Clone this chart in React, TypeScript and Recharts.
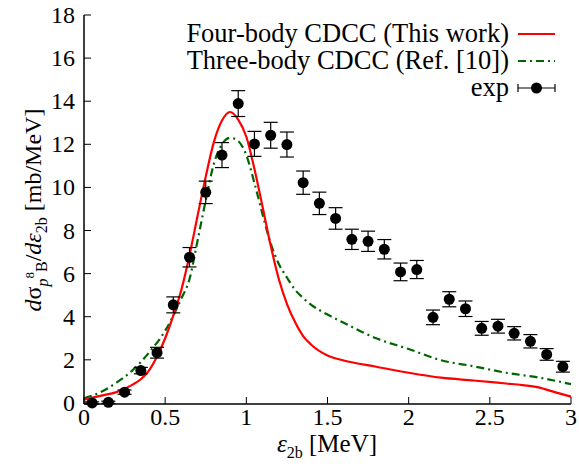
import React from 'react';
import { ComposedChart, Line, Scatter, XAxis, YAxis, ErrorBar } from 'recharts';

// Four-body CDCC (This work)
const fourBodyE = [0, 0.1, 0.2, 0.3, 0.35, 0.4, 0.45, 0.5, 0.55, 0.6, 0.65, 0.7, 0.75, 0.8, 0.85, 0.9, 0.95, 1.0, 1.05, 1.1, 1.15, 1.2, 1.25, 1.3, 1.35, 1.4, 1.5, 1.6, 1.8, 2.0, 2.2, 2.4, 2.6, 2.7, 2.8, 2.9, 3.0];
const fourBodyY = [0.15, 0.33, 0.5, 0.85, 1.1, 1.5, 2.15, 3.0, 4.05, 5.25, 6.85, 8.7, 10.5, 12.1, 13.1, 13.5, 13.15, 12.35, 10.85, 9.1, 7.3, 5.75, 4.6, 3.75, 3.1, 2.7, 2.2, 1.97, 1.68, 1.4, 1.17, 1.04, 0.9, 0.83, 0.72, 0.5, 0.29];

// Three-body CDCC (Ref. [10])
const threeBodyE = [0, 0.1, 0.2, 0.3, 0.4, 0.5, 0.6, 0.65, 0.7, 0.75, 0.8, 0.85, 0.9, 0.95, 1.0, 1.05, 1.1, 1.15, 1.2, 1.25, 1.3, 1.35, 1.4, 1.5, 1.6, 1.8, 2.0, 2.2, 2.4, 2.6, 2.8, 3.0];
const threeBodyY = [0.22, 0.49, 0.94, 1.52, 2.33, 3.35, 4.85, 5.75, 7.55, 9.4, 11.1, 12.0, 12.3, 12.15, 11.5, 10.2, 8.75, 7.4, 6.45, 5.82, 5.25, 4.87, 4.55, 4.1, 3.72, 3.0, 2.5, 1.98, 1.7, 1.4, 1.18, 0.87];

// exp
const expE = [0.05, 0.15, 0.25, 0.35, 0.45, 0.55, 0.65, 0.75, 0.85, 0.95, 1.05, 1.15, 1.25, 1.35, 1.45, 1.55, 1.65, 1.75, 1.85, 1.95, 2.05, 2.15, 2.25, 2.35, 2.45, 2.55, 2.65, 2.75, 2.85, 2.95];
const expY = [0.0, 0.03, 0.5, 1.5, 2.33, 4.55, 6.76, 9.77, 11.5, 13.89, 12.02, 12.42, 11.99, 10.22, 9.26, 8.56, 7.59, 7.5, 7.13, 6.08, 6.19, 3.97, 4.81, 4.37, 3.46, 3.56, 3.23, 2.86, 2.25, 1.68];
const expErr = [0.05, 0.05, 0.1, 0.15, 0.25, 0.37, 0.45, 0.52, 0.58, 0.6, 0.58, 0.6, 0.58, 0.54, 0.52, 0.5, 0.47, 0.47, 0.45, 0.41, 0.42, 0.34, 0.35, 0.36, 0.32, 0.32, 0.31, 0.31, 0.27, 0.25];

const xTicks = [0, 0.5, 1, 1.5, 2, 2.5, 3];
const yTicks = [0, 2, 4, 6, 8, 10, 12, 14, 16, 18];

const legendLabels = ['Four-body CDCC (This work)', 'Three-body CDCC (Ref. [10])', 'exp'];

const fourBodyData = fourBodyE.map((x, i) => ({ x, y: fourBodyY[i] }));
const threeBodyData = threeBodyE.map((x, i) => ({ x, y: threeBodyY[i] }));
const expData = expE.map((x, i) => ({ x, y: expY[i], err: expErr[i] }));

const FONT = '"Liberation Serif", "Times New Roman", serif';
const TICK_LEN = 7;

const BottomTick = (props: any) => {
  const { x, y, payload } = props;
  return (
    <g>
      <line x1={x} y1={y} x2={x} y2={y - TICK_LEN} stroke="#000" strokeWidth={1} />
      <text x={x} y={y + 21} textAnchor="middle" fontSize={24} fontFamily={FONT} fill="#000">
        {String(payload.value)}
      </text>
    </g>
  );
};

const TopTick = (props: any) => {
  const { x, y } = props;
  return <line x1={x} y1={y} x2={x} y2={y + TICK_LEN} stroke="#000" strokeWidth={1} />;
};

const LeftTick = (props: any) => {
  const { x, y, payload } = props;
  return (
    <g>
      <line x1={x} y1={y} x2={x + TICK_LEN} y2={y} stroke="#000" strokeWidth={1} />
      <text x={x - 9} y={y + 8} textAnchor="end" fontSize={24} fontFamily={FONT} fill="#000">
        {String(payload.value)}
      </text>
    </g>
  );
};

const RightTick = (props: any) => {
  const { x, y } = props;
  return <line x1={x} y1={y} x2={x - TICK_LEN} y2={y} stroke="#000" strokeWidth={1} />;
};

const Dot = (props: any) => {
  const { cx, cy } = props;
  if (cx == null || cy == null) return null;
  return <circle cx={cx} cy={cy} r={5.5} fill="#000" />;
};

const axisLine = { stroke: '#000', strokeWidth: 1.5 };

export default function App() {
  return (
    <div style={{ position: 'absolute', left: 0, top: 0, width: 579, height: 466, background: '#fff' }}>
      <ComposedChart width={579} height={466} margin={{ top: 15, right: 8, left: 0, bottom: 0 }}>
        <XAxis
          xAxisId="b"
          dataKey="x"
          type="number"
          domain={[0, 3]}
          ticks={xTicks}
          height={62}
          tickSize={0}
          tickMargin={0}
          tickLine={false}
          axisLine={axisLine}
          tick={<BottomTick />}
          interval={0}
        />
        <XAxis
          xAxisId="t"
          orientation="top"
          dataKey="x"
          type="number"
          domain={[0, 3]}
          ticks={xTicks}
          height={0}
          tickSize={0}
          tickMargin={0}
          tickLine={false}
          axisLine={axisLine}
          tick={<TopTick />}
          interval={0}
        />
        <YAxis
          yAxisId="l"
          type="number"
          domain={[0, 18]}
          ticks={yTicks}
          width={84}
          tickSize={0}
          tickMargin={0}
          tickLine={false}
          axisLine={axisLine}
          tick={<LeftTick />}
          interval={0}
        />
        <YAxis
          yAxisId="r"
          orientation="right"
          type="number"
          domain={[0, 18]}
          ticks={yTicks}
          width={0}
          tickSize={0}
          tickMargin={0}
          tickLine={false}
          axisLine={axisLine}
          tick={<RightTick />}
          interval={0}
        />
        <Line
          xAxisId="b"
          yAxisId="l"
          data={threeBodyData}
          dataKey="y"
          type="monotone"
          stroke="#006400"
          strokeWidth={2.2}
          strokeDasharray="8 4 2 4"
          dot={false}
          activeDot={false}
          isAnimationActive={false}
        />
        <Line
          xAxisId="b"
          yAxisId="l"
          data={fourBodyData}
          dataKey="y"
          type="monotone"
          stroke="#ff0000"
          strokeWidth={2.2}
          dot={false}
          activeDot={false}
          isAnimationActive={false}
        />
        <Scatter
          xAxisId="b"
          yAxisId="l"
          data={expData}
          dataKey="y"
          fill="#000"
          shape={<Dot />}
          isAnimationActive={false}
        >
          <ErrorBar dataKey="err" direction="y" width={7} stroke="#000" strokeWidth={1.2} />
        </Scatter>
      </ComposedChart>
      <svg width={579} height={466} style={{ position: 'absolute', left: 0, top: 0, pointerEvents: 'none' }}>
        <g fontFamily={FONT} fill="#000">
          <text x={327} y={452} textAnchor="middle" fontSize={25}>
            <tspan fontStyle="italic">ε</tspan>
            <tspan fontSize={16} dy={6}>2b</tspan>
            <tspan dy={-6}> [MeV]</tspan>
          </text>
          <text transform="translate(41,210) rotate(-90)" textAnchor="middle" fontSize={24}>
            <tspan fontStyle="italic">d</tspan>
            <tspan>σ</tspan>
            <tspan fontSize={16} fontStyle="italic" dy={7}>p</tspan>
            <tspan fontSize={13} dy={-14}>8</tspan>
            <tspan fontSize={16} dy={13}>B</tspan>
            <tspan dy={-6}>/</tspan>
            <tspan fontStyle="italic">dε</tspan>
            <tspan fontSize={16} dy={6}>2b</tspan>
            <tspan dy={-6}> [mb/MeV]</tspan>
          </text>
          <text x={509} y={42} textAnchor="end" fontSize={26.5}>{legendLabels[0]}</text>
          <text x={509} y={69} textAnchor="end" fontSize={26.5}>{legendLabels[1]}</text>
          <text x={509} y={96} textAnchor="end" fontSize={26.5}>{legendLabels[2]}</text>
        </g>
        <line x1={518} y1={34} x2={555} y2={34} stroke="#ff0000" strokeWidth={2.2} />
        <line x1={518} y1={61} x2={555} y2={61} stroke="#006400" strokeWidth={2.2} strokeDasharray="8 4 2 4" />
        <line x1={518} y1={88} x2={555} y2={88} stroke="#000" strokeWidth={1.2} />
        <line x1={518} y1={84} x2={518} y2={92} stroke="#000" strokeWidth={1.2} />
        <line x1={555} y1={84} x2={555} y2={92} stroke="#000" strokeWidth={1.2} />
        <circle cx={536.5} cy={88} r={5.5} fill="#000" />
      </svg>
    </div>
  );
}
